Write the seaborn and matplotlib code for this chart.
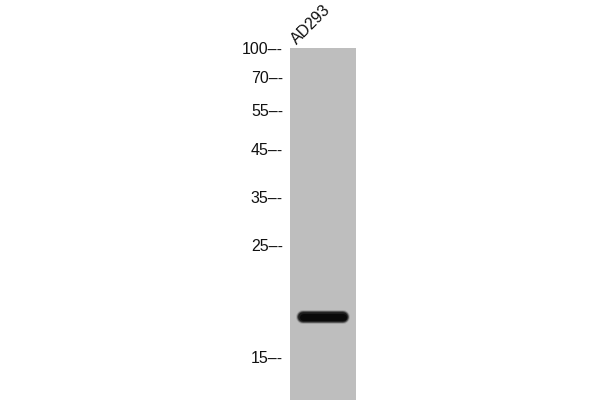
import matplotlib.pyplot as plt
import seaborn as sns
import pandas as pd

# marker ladder (kDa) and how far each ran down the lane (px from lane top)
marker_kda = [100, 70, 55, 45, 35, 25, 15]
marker_pos = [0, 29, 62, 101, 149, 197, 309]
lane_names = ["AD293"]
band_pos = [269]          # migration of the detected band
band_x = [0.2, 0.8]       # band extent across the lane (fraction of lane width)
lane_length = 352

sns.set_style("white")
plt.rcParams['font.family'] = ['Liberation Sans', 'DejaVu Sans']

fig = plt.figure(figsize=(6, 4), dpi=100)
ax = fig.add_axes([290 / 600, 0, 66 / 600, lane_length / 400])
ax.set_facecolor("#bebebe")

band = pd.DataFrame({"x": band_x, "y": band_pos * len(band_x)})
# soft halo first, then the dark core
for lw, col in [(10.0, "#a0a0a0"), (8.5, "#505050"), (7.0, "#1c1c1c"), (5.0, "#0a0a0a")]:
    sns.lineplot(data=band, x="x", y="y", ax=ax, color=col, linewidth=lw,
                 solid_capstyle="round", legend=False)

ax.set_xlim(0, 1)
ax.set_ylim(lane_length, 0)
ax.set_xticks([])
ax.set_yticks(marker_pos)
ax.set_yticklabels([f"{k}\u2013-" for k in marker_kda])
ax.tick_params(axis="y", length=0, pad=5, labelsize=11.5, labelcolor="#111111")
ax.set_xlabel("")
ax.set_ylabel("")
for s in ax.spines.values():
    s.set_visible(False)

ax.text(0.14, -1, lane_names[0], rotation=45, ha="left", va="bottom",
        rotation_mode="anchor", fontsize=11.5, color="#111111", clip_on=False)

fig.savefig("out.png", dpi=100)
